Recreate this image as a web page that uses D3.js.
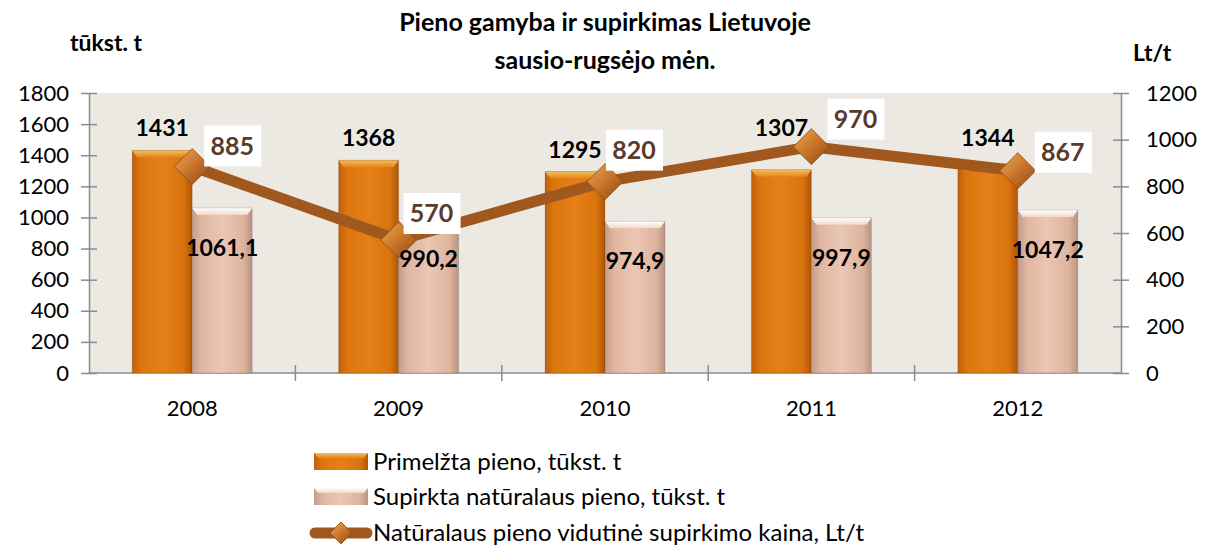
<!DOCTYPE html>
<html>
<head>
<meta charset="utf-8">
<script src="https://cdn.jsdelivr.net/npm/d3@7"></script>
<style>
  body { margin: 0; background: #fff; }
  text { font-family: Lato, "Open Sans", sans-serif; }
</style>
</head>
<body>
<div id="chart"></div>
<script>
// data
var years = ["2008", "2009", "2010", "2011", "2012"];
var milked = [1431, 1368, 1295, 1307, 1344];
var bought = [1061.1, 990.2, 974.9, 997.9, 1047.2];
var price = [885, 570, 820, 970, 867];
var leftTicks = [0, 200, 400, 600, 800, 1000, 1200, 1400, 1600, 1800];
var rightTicks = [0, 200, 400, 600, 800, 1000, 1200];
var seriesNames = ["Primelžta pieno, tūkst. t", "Supirkta natūralaus pieno, tūkst. t", "Natūralaus pieno vidutinė supirkimo kaina, Lt/t"];

// label nudges (as in the original, some were moved by hand)
var milkedDy = [-14, -14, -14, -34, -18];
var priceLabelDx = [40, 33, 29, 44, 45];
var priceLabelDy = [-21, -27, -32, -28, -19];

var svgWidth = 1208;
var svgHeight = 551;
var margin = { top: 93, right: 87, bottom: 178, left: 89 };
var width = svgWidth - margin.left - margin.right;
var height = svgHeight - margin.top - margin.bottom;

var svg = d3.select("#chart")
  .append("svg")
  .attr("width", svgWidth)
  .attr("height", svgHeight);

var defs = svg.append("defs");

function hGrad(id, stops) {
  var g = defs.append("linearGradient").attr("id", id)
    .attr("x1", "0%").attr("x2", "100%").attr("y1", "0%").attr("y2", "0%");
  stops.forEach(function(s) {
    g.append("stop").attr("offset", s[0]).attr("stop-color", s[1]);
  });
}
function vGrad(id, stops) {
  var g = defs.append("linearGradient").attr("id", id)
    .attr("x1", "0%").attr("x2", "0%").attr("y1", "0%").attr("y2", "100%");
  stops.forEach(function(s) {
    g.append("stop").attr("offset", s[0]).attr("stop-color", s[1]);
  });
}
hGrad("orangeBody", [["0%", "#C0600A"], ["15%", "#DC760E"], ["50%", "#E58018"], ["85%", "#DA740E"], ["100%", "#B05606"]]);
vGrad("orangeTop", [["0%", "#F4C060"], ["100%", "#E4841A"]]);
hGrad("pinkBody", [["0%", "#C49C8C"], ["15%", "#E0B6A0"], ["50%", "#EAC6B4"], ["85%", "#DEB49E"], ["100%", "#B89484"]]);
vGrad("pinkTop", [["0%", "#FFFFFF"], ["100%", "#F2D8C8"]]);
var dg = defs.append("linearGradient").attr("id", "diamond")
  .attr("x1", "0%").attr("x2", "100%").attr("y1", "0%").attr("y2", "100%");
dg.append("stop").attr("offset", "0%").attr("stop-color", "#F0A850");
dg.append("stop").attr("offset", "55%").attr("stop-color", "#C47028");
dg.append("stop").attr("offset", "100%").attr("stop-color", "#8A4A14");

var chartGroup = svg.append("g")
  .attr("transform", `translate(${margin.left}, ${margin.top})`);

// plot background
chartGroup.append("rect")
  .attr("width", width)
  .attr("height", height)
  .attr("fill", "#ECE9E3");

// scales
var xScale = d3.scaleBand().domain(years).range([0, width]);
var xInner = d3.scaleBand().domain([0, 1]).range([0, xScale.bandwidth()]).paddingOuter(0.72);
var yLeft = d3.scaleLinear().domain([0, 1800]).range([height, 0]);
var yRight = d3.scaleLinear().domain([0, 1200]).range([height, 0]);

// axes
var leftAxis = d3.axisLeft(yLeft).tickValues(leftTicks).tickFormat(d3.format("d"))
  .tickSizeInner(8).tickSizeOuter(0).tickPadding(12);
var rightAxis = d3.axisRight(yRight).tickValues(rightTicks).tickFormat(d3.format("d"))
  .tickSizeInner(8).tickSizeOuter(0).tickPadding(17);

var gl = chartGroup.append("g").call(leftAxis);
var gr = chartGroup.append("g").attr("transform", `translate(${width}, 0)`).call(rightAxis);
[gl, gr].forEach(function(g) {
  g.select(".domain").attr("stroke", "#8C8C8C").attr("stroke-width", 1.5);
  g.selectAll(".tick line").attr("stroke", "#8C8C8C").attr("stroke-width", 1.5);
  g.selectAll(".tick text").attr("font-size", 22).attr("fill", "#000")
    .style("font-family", "Lato, sans-serif");
});
gl.selectAll(".tick line").attr("x1", 8).attr("x2", -8);
gr.selectAll(".tick line").attr("x1", -8).attr("x2", 8);

// bottom axis with crossing ticks at category borders
var gb = chartGroup.append("g").attr("transform", `translate(0, ${height})`);
gb.append("line").attr("x1", 0).attr("x2", width).attr("stroke", "#8C8C8C").attr("stroke-width", 1.5);
gb.selectAll(".cat-tick")
  .data(years.slice(1))
  .enter()
  .append("line")
  .attr("x1", d => xScale(d)).attr("x2", d => xScale(d))
  .attr("y1", -8).attr("y2", 8)
  .attr("stroke", "#8C8C8C").attr("stroke-width", 1.5);
gb.selectAll(".year")
  .data(years)
  .enter()
  .append("text")
  .attr("x", d => xScale(d) + xScale.bandwidth() / 2)
  .attr("y", 43)
  .attr("text-anchor", "middle")
  .attr("font-size", 22)
  .text(d => d);

// bars
function drawBars(values, idx, body, top, cls) {
  var g = chartGroup.selectAll("." + cls)
    .data(values)
    .enter()
    .append("g")
    .attr("class", cls)
    .attr("transform", (d, i) => `translate(${xScale(years[i]) + xInner(idx)}, 0)`);
  var bw = xInner.bandwidth();
  g.append("rect")
    .attr("x", 0).attr("y", d => yLeft(d))
    .attr("width", bw).attr("height", d => height - yLeft(d))
    .attr("fill", `url(#${body})`);
  g.append("path")
    .attr("d", d => `M0,${yLeft(d)}H${bw}L${bw - 5},${yLeft(d) + 7}H5Z`)
    .attr("fill", `url(#${top})`);
  g.append("rect")
    .attr("x", 0).attr("y", d => yLeft(d))
    .attr("width", bw).attr("height", d => height - yLeft(d))
    .attr("fill", "none").attr("stroke", "#000").attr("stroke-opacity", 0.12);
  return g;
}
drawBars(milked, 0, "orangeBody", "orangeTop", "milked");
drawBars(bought, 1, "pinkBody", "pinkTop", "bought");

// price line
var cx = d => xScale(d) + xScale.bandwidth() / 2;
var line = d3.line()
  .x((d, i) => cx(years[i]))
  .y(d => yRight(d));

chartGroup.append("path")
  .datum(price)
  .attr("d", line)
  .attr("fill", "none")
  .attr("stroke", "#A0581E")
  .attr("stroke-width", 11)
  .attr("stroke-linejoin", "round");

var dsz = 18;
chartGroup.selectAll(".marker")
  .data(price)
  .enter()
  .append("path")
  .attr("class", "marker")
  .attr("d", `M0,${-dsz}L${dsz},0L0,${dsz}L${-dsz},0Z`)
  .attr("transform", (d, i) => `translate(${cx(years[i])}, ${yRight(d)})`)
  .attr("fill", "url(#diamond)")
  .attr("stroke", "#8A4A14")
  .attr("stroke-width", 0.8);

// bar labels
chartGroup.selectAll(".milked-label")
  .data(milked)
  .enter()
  .append("text")
  .attr("x", (d, i) => xScale(years[i]) + xInner(0) + xInner.bandwidth() / 2)
  .attr("y", (d, i) => yLeft(d) + milkedDy[i])
  .attr("text-anchor", "middle")
  .attr("font-size", 23)
  .attr("font-weight", "bold")
  .text(d => d);

chartGroup.selectAll(".bought-label")
  .data(bought)
  .enter()
  .append("text")
  .attr("x", (d, i) => xScale(years[i]) + xInner(1) + xInner.bandwidth() / 2)
  .attr("y", d => yLeft(d) + 48)
  .attr("text-anchor", "middle")
  .attr("font-size", 23)
  .attr("font-weight", "bold")
  .text(d => String(d).replace(".", ","));

// price labels in white boxes
var pl = chartGroup.selectAll(".price-label")
  .data(price)
  .enter()
  .append("g")
  .attr("transform", (d, i) => `translate(${cx(years[i]) + priceLabelDx[i]}, ${yRight(d) + priceLabelDy[i]})`);
pl.append("rect")
  .attr("x", -28).attr("y", -20)
  .attr("width", 57).attr("height", 41)
  .attr("fill", "#fff");
pl.append("text")
  .attr("y", 9)
  .attr("text-anchor", "middle")
  .attr("font-size", 25)
  .attr("font-weight", "bold")
  .attr("fill", "#5A3A2C")
  .text(d => d);

// titles
svg.append("text")
  .attr("x", 605).attr("y", 31)
  .attr("text-anchor", "middle")
  .attr("font-size", 25).attr("font-weight", "bold")
  .text("Pieno gamyba ir supirkimas Lietuvoje");
svg.append("text")
  .attr("x", 605).attr("y", 69)
  .attr("text-anchor", "middle")
  .attr("font-size", 25).attr("font-weight", "bold")
  .text("sausio-rugsėjo mėn.");
svg.append("text")
  .attr("x", 70).attr("y", 51)
  .attr("font-size", 23).attr("font-weight", "bold")
  .text("tūkst. t");
svg.append("text")
  .attr("x", 1133).attr("y", 61)
  .attr("font-size", 23).attr("font-weight", "bold")
  .text("Lt/t");

// legend
var legend = svg.append("g").attr("transform", "translate(313, 0)");
var ly = [462, 497, 533];
[["orangeBody", "orangeTop"], ["pinkBody", "pinkTop"]].forEach(function(f, i) {
  legend.append("rect").attr("x", 1).attr("y", ly[i] - 9).attr("width", 54).attr("height", 17)
    .attr("fill", `url(#${f[0]})`);
  legend.append("path").attr("d", `M1,${ly[i] - 9}H55L51,${ly[i] - 4}H5Z`)
    .attr("fill", `url(#${f[1]})`);
});
legend.append("line").attr("x1", 2).attr("x2", 54).attr("y1", ly[2]).attr("y2", ly[2])
  .attr("stroke", "#A0581E").attr("stroke-width", 11).attr("stroke-linecap", "round");
legend.append("path").attr("d", "M0,-11L11,0L0,11L-11,0Z")
  .attr("transform", `translate(28, ${ly[2]})`)
  .attr("fill", "url(#diamond)").attr("stroke", "#8A4A14").attr("stroke-width", 0.8);
legend.selectAll(".legend-text")
  .data(seriesNames)
  .enter()
  .append("text")
  .attr("x", 60)
  .attr("y", (d, i) => ly[i] + 8)
  .attr("font-size", 24)
  .text(d => d);
</script>
</body>
</html>
